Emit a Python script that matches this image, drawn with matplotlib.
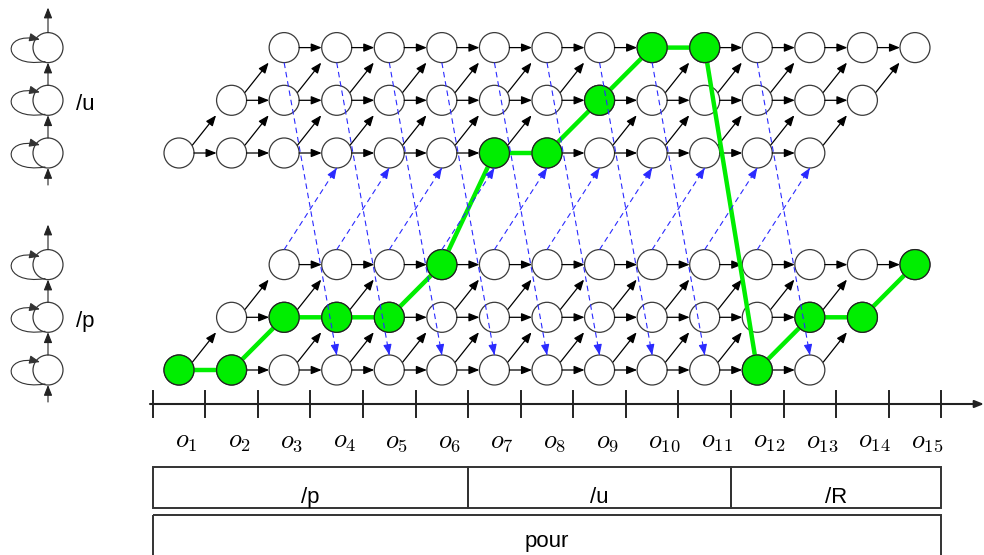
import numpy as np
import matplotlib
matplotlib.use("Agg")
import matplotlib.pyplot as plt
from matplotlib.patches import Circle, Rectangle, FancyArrowPatch
from matplotlib.path import Path

plt.rcParams["mathtext.fontset"] = "cm"
plt.rcParams["font.family"] = ["Liberation Sans", "DejaVu Sans"]

# --- data -------------------------------------------------------------
obs_labels = [f"$o_{{{i}}}$" for i in range(1, 16)]
models = ["/u", "/p"]
state_first = [1, 2, 3]        # first frame each HMM state can be reached
state_last = [13, 14, 15]      # last frame each HMM state can be reached
cross_frames = list(range(3, 13))  # exit state at t -> entry state of other model at t+1
path_model = ["/p", "/p", "/p", "/p", "/p", "/p", "/u", "/u", "/u", "/u", "/u", "/p", "/p", "/p", "/p"]
path_state = [0, 0, 1, 1, 1, 2, 0, 0, 1, 2, 2, 0, 1, 1, 2]
seg_labels = ["/p", "/u", "/R"]
seg_start = [1, 7, 12]
seg_end = [6, 11, 15]
word_label = "pour"
word_start, word_end = 1, 15

# --- layout -----------------------------------------------------------
X0, DX = 179, 52.57
DY = 52.7
BASE = {"/u": 153, "/p": 370}
R = 15
LEFT_X = 48
GREEN = "#00ee00"
BLUE = "#2a2aff"
EDGE = "#3a3a3a"


def xf(t):
    return X0 + DX * (t - 1)


def yf(m, s):
    return BASE[m] - DY * s


fig = plt.figure(figsize=(9.84, 5.55), dpi=100)
ax = fig.add_axes([0, 0, 1, 1])
ax.set_xlim(0, 984)
ax.set_ylim(555, 0)
ax.axis("off")


def arrow(p, q, color="black", lw=0.9, z=3, ms=14, hl=0.45, hw=0.18):
    ax.add_patch(FancyArrowPatch(p, q, arrowstyle=f"-|>,head_length={hl},head_width={hw}",
                                 mutation_scale=ms, lw=lw, color=color, shrinkA=0, shrinkB=0,
                                 zorder=z))


def dashed_arrow(p, q):
    p, q = np.array(p, float), np.array(q, float)
    ax.plot([p[0], q[0]], [p[1], q[1]], color=BLUE, lw=0.8, ls=(0, (5, 3.5)), zorder=6)
    u = (q - p) / np.hypot(*(q - p))
    arrow(q - 9 * u, q, color=BLUE, lw=0.8, z=6)


# transitions taken by the best path (their arrows are covered by it)
on_path = set()
for t in range(1, 15):
    on_path.add((path_model[t - 1], path_state[t - 1], t, path_model[t], path_state[t]))

# --- trellis ----------------------------------------------------------
for m in models:
    for s in range(3):
        ts = range(state_first[s], state_last[s] + 1)
        for t in ts:
            ax.add_patch(Circle((xf(t), yf(m, s)), R, fc="white", ec=EDGE, lw=0.9, zorder=2))
            if t < state_last[s] and (m, s, t, m, s) not in on_path:
                arrow((xf(t) + R, yf(m, s)), (xf(t + 1) - R, yf(m, s)))
            if s < 2 and (m, s, t, m, s + 1) not in on_path:
                arrow((xf(t) + 13.5, yf(m, s) - 8), (xf(t + 1) - 15.5, yf(m, s + 1) + 15))

# cross-model transitions
for t in cross_frames:
    dashed_arrow((xf(t), yf("/p", 2) - R), (xf(t + 1), yf("/u", 0) + R))
    if ("/u", 2, t, "/p", 0) not in on_path:
        dashed_arrow((xf(t), yf("/u", 2) + R), (xf(t + 1), yf("/p", 0) - R))

# best path
px = [xf(t) for t in range(1, 16)]
py = [yf(m, s) for m, s in zip(path_model, path_state)]
ax.plot(px, py, color=GREEN, lw=3.2, solid_capstyle="butt", zorder=4)
for x, y in zip(px, py):
    ax.add_patch(Circle((x, y), R, fc=GREEN, ec="#222222", lw=0.9, zorder=5))

# --- left HMM topologies ----------------------------------------------
for m in models:
    ys = [yf(m, s) for s in range(3)]
    for y in ys:
        ax.add_patch(Circle((LEFT_X, y), R, fc="white", ec=EDGE, lw=0.9, zorder=2))
        verts = [(LEFT_X - 3, y + 14), (LEFT_X - 47, y + 21), (LEFT_X - 47, y - 17), (LEFT_X - 8, y - 8)]
        loop = Path(verts, [Path.MOVETO, Path.CURVE4, Path.CURVE4, Path.CURVE4])
        ax.add_patch(FancyArrowPatch(path=loop, arrowstyle="-|>,head_length=0.45,head_width=0.18",
                                     mutation_scale=14, lw=0.8, color="#333333", zorder=3))
    arrow((LEFT_X, ys[0] + 32), (LEFT_X, ys[0] + R), color="#222222", lw=0.8)
    arrow((LEFT_X, ys[0] - R), (LEFT_X, ys[1] + R), color="#222222", lw=0.8)
    arrow((LEFT_X, ys[1] - R), (LEFT_X, ys[2] + R), color="#222222", lw=0.8)
    arrow((LEFT_X, ys[2] - R), (LEFT_X, ys[2] - 40), color="#222222", lw=0.8)
    ax.text(76, ys[1] + 10, m, fontsize=16, ha="left", va="baseline", color="black")

# --- time axis --------------------------------------------------------
AY = 404
arrow((150, AY), (984, AY), color="#222222", lw=1.5, ms=12)
for k in range(16):
    bx = xf(1) - DX / 2 + DX * k
    ax.plot([bx, bx], [391, 417], color="#222222", lw=1.4, zorder=3)
for t, lab in enumerate(obs_labels, start=1):
    ax.text(xf(t) - 4, 442, lab, fontsize=19, ha="left", va="center")

# --- segment boxes ----------------------------------------------------
for lab, a, b in zip(seg_labels, seg_start, seg_end):
    x0, x1 = xf(a) - DX / 2, xf(b) + DX / 2
    ax.add_patch(Rectangle((x0, 467), x1 - x0, 41, fill=False, ec="#333333", lw=1.4, zorder=3))
    ax.text((x0 + x1) / 2, 503, lab, fontsize=16, ha="center", va="baseline")
x0, x1 = xf(word_start) - DX / 2, xf(word_end) + DX / 2
ax.add_patch(Rectangle((x0, 515), x1 - x0, 60, fill=False, ec="#333333", lw=1.4, zorder=3))
ax.text((x0 + x1) / 2, 547, word_label, fontsize=16, ha="center", va="baseline")

fig.savefig("out.png", dpi=100)
